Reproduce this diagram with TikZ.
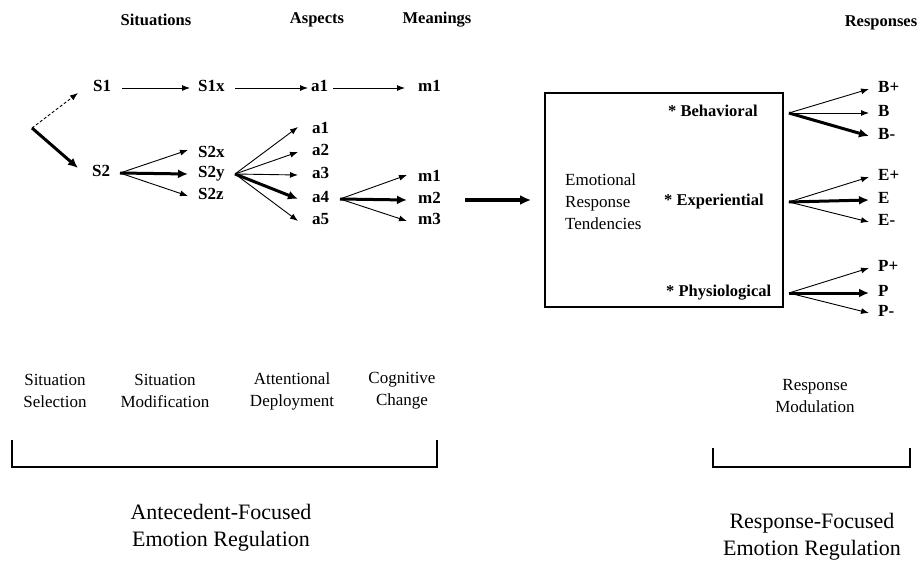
\documentclass[tikz,border=0pt]{standalone}
\usepackage{fontspec}
\setmainfont{Liberation Serif}
\usetikzlibrary{arrows.meta,calc}
\tikzset{
  lbl/.style={inner sep=0pt, anchor=west, font=\fontsize{17}{19}\selectfont\bfseries, text height=0.68em, text depth=0pt},
  boxlbl/.style={inner sep=0pt, anchor=west, font=\fontsize{16.5}{20}\selectfont\bfseries, text height=0.68em, text depth=0pt},
  hdr/.style={inner sep=0pt, font=\fontsize{16.5}{20}\selectfont\bfseries},
  capt/.style={inner sep=0pt, align=center, font=\fontsize{17}{22}\selectfont},
  bigcapt/.style={inner sep=0pt, align=center, font=\fontsize{22}{27}\selectfont},
  thinarr/.style={line width=0.9pt, -{Latex[length=8pt,width=6pt]}},
  thickarr/.style={line width=3pt, -{Latex[length=10pt,width=9pt]}},
  bracketline/.style={line width=2.5pt, line join=miter},
}
\begin{document}
\begin{tikzpicture}[x=1pt,y=-1pt]
\useasboundingbox (0,0) rectangle (921,560);

% headers
\node[hdr] (hsit) at (156,20) {Situations};
\node[hdr] (hasp) at (317,20) {Aspects};
\node[hdr] (hmea) at (437,20) {Meanings};
\node[hdr] (hres) at (881,23) {Responses};

% top row
\coordinate (o) at (32,128);
\node[lbl] (S1) at (93,88) {S1};
\node[lbl] (S1x) at (198,88) {S1x};
\node[lbl] (ta1) at (311,88) {a1};
\node[lbl] (tm1) at (418,88) {m1};

% lower rows
\node[lbl] (S2) at (92,173) {S2};
\node[lbl] (S2x) at (198,154) {S2x};
\node[lbl] (S2y) at (198,174) {S2y};
\node[lbl] (S2z) at (198,196) {S2z};
\node[lbl] (a1) at (312,130) {a1};
\node[lbl] (a2) at (312,152) {a2};
\node[lbl] (a3) at (312,175) {a3};
\node[lbl] (a4) at (312,199) {a4};
\node[lbl] (a5) at (312,221) {a5};
\node[lbl] (m1) at (418,178) {m1};
\node[lbl] (m2) at (418,200) {m2};
\node[lbl] (m3) at (418,221) {m3};

% box
\node[draw, line width=1.8pt, minimum width=238pt, minimum height=214pt, inner sep=0pt] (box) at (664,200) {};
\node[inner sep=0pt, anchor=west, align=left, font=\fontsize{17}{22}\selectfont] (ert) at (565,202) {Emotional\\Response\\Tendencies};
\node[boxlbl] (beh) at (668,113) {* Behavioral};
\node[boxlbl] (exper) at (664,202) {* Experiential};
\node[boxlbl] (phys) at (666,293) {* Physiological};

% responses
\node[lbl] (Bp) at (878,89) {B+};
\node[lbl] (B0) at (878,113) {B};
\node[lbl] (Bm) at (878,136) {B-};
\node[lbl] (Ep) at (878,177) {E+};
\node[lbl] (E0) at (878,200) {E};
\node[lbl] (Em) at (878,222) {E-};
\node[lbl] (Pp) at (878,268) {P+};
\node[lbl] (P0) at (878,293) {P};
\node[lbl] (Pm) at (878,313) {P-};

% arrows top row
\draw[thinarr, densely dashed] (o) -- ([xshift=-15pt,yshift=-5pt]S1.west);
\draw[thickarr] (o) -- ([xshift=-14pt,yshift=5pt]S2.west);
\draw[thinarr] ([xshift=29pt]S1.west) -- ([xshift=-8pt]S1x.west);
\draw[thinarr] ([xshift=37pt]S1x.west) -- ([xshift=-3pt]ta1.west);
\draw[thinarr] ([xshift=22pt]ta1.west) -- ([xshift=-13pt]tm1.west);

% S2 fan
\draw[thinarr] ([xshift=28pt]S2.west) -- ([xshift=-10pt,yshift=4pt]S2x.west);
\draw[thickarr] ([xshift=28pt]S2.west) -- ([xshift=-10pt]S2y.west);
\draw[thinarr] ([xshift=28pt]S2.west) -- ([xshift=-10pt]S2z.west);

% S2y fan
\draw[thinarr] ([xshift=37pt]S2y.west) -- ([xshift=-14pt,yshift=3pt]a1.west);
\draw[thinarr] ([xshift=37pt]S2y.west) -- ([xshift=-14pt]a2.west);
\draw[thinarr] ([xshift=37pt]S2y.west) -- ([xshift=-14pt]a3.west);
\draw[thickarr] ([xshift=37pt]S2y.west) -- ([xshift=-14pt]a4.west);
\draw[thinarr] ([xshift=37pt]S2y.west) -- ([xshift=-14pt]a5.west);

% a4 fan
\draw[thinarr] ([xshift=28pt]a4.west) -- ([xshift=-11pt,yshift=3pt]m1.west);
\draw[thickarr] ([xshift=28pt]a4.west) -- ([xshift=-11pt]m2.west);
\draw[thinarr] ([xshift=28pt]a4.west) -- ([xshift=-11pt]m3.west);

% into box
\draw[line width=4pt, -{Latex[length=11pt,width=10pt]}] ([xshift=47pt]m2.west) -- ([xshift=-13pt]box.west);

% response fans
\coordinate (hb) at ($(box.east |- beh)+(5pt,0)$);
\coordinate (he) at ($(box.east |- exper)+(5pt,0)$);
\coordinate (hp) at ($(box.east |- phys)+(5pt,0)$);
\draw[thinarr] (hb) -- ([xshift=-9pt]Bp.west);
\draw[thinarr] (hb) -- ([xshift=-9pt]B0.west);
\draw[thickarr] (hb) -- ([xshift=-9pt]Bm.west);
\draw[thinarr] (he) -- ([xshift=-9pt]Ep.west);
\draw[thickarr] (he) -- ([xshift=-9pt]E0.west);
\draw[thinarr] (he) -- ([xshift=-9pt]Em.west);
\draw[thinarr] (hp) -- ([xshift=-9pt]Pp.west);
\draw[thickarr] (hp) -- ([xshift=-9pt]P0.west);
\draw[thinarr] (hp) -- ([xshift=-9pt]Pm.west);

% bottom captions
\node[capt] (ss) at (55,391) {Situation\\Selection};
\node[capt] (sm) at (165,391) {Situation\\Modification};
\node[capt] (ad) at (292,391) {Attentional\\Deployment};
\node[capt] (cc) at (402,391) {Cognitive\\Change};
\node[capt] (rm) at (815,396) {Response\\Modulation};

% brackets
\draw[bracketline] (12,440) -- (12,467) -- (437,467) -- (437,440);
\draw[bracketline] (713,448) -- (713,467) -- (910,467) -- (910,448);

\node[bigcapt] (afer) at (221,528) {Antecedent-Focused\\Emotion Regulation};
\node[bigcapt] (rfer) at (812,537) {Response-Focused\\Emotion Regulation};
\end{tikzpicture}
\end{document}
